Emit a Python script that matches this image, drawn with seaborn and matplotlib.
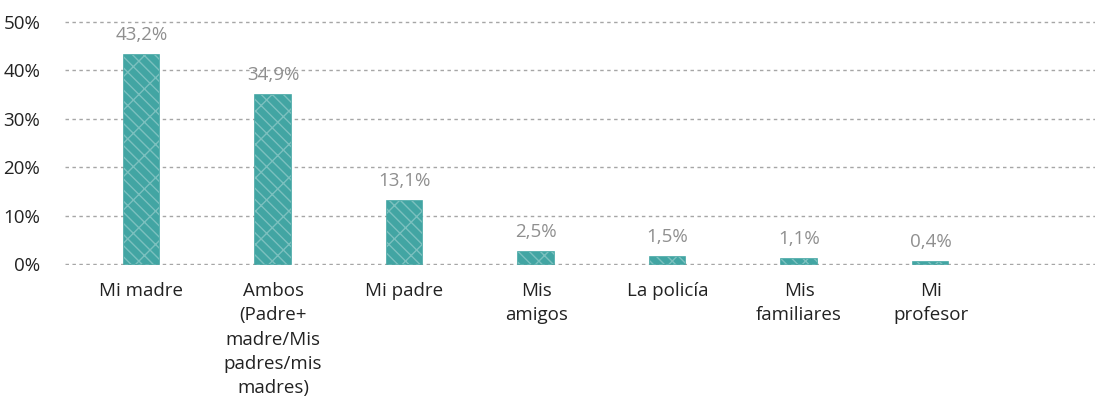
import pandas as pd
import numpy as np
import seaborn as sns
import matplotlib.pyplot as plt

categories = ['Mi madre', 'Ambos\n(Padre+\nmadre/Mis\npadres/mis\nmadres)', 'Mi padre',
              'Mis\namigos', 'La policía', 'Mis\nfamiliares', 'Mi\nprofesor']
values = [43.2, 34.9, 13.1, 2.5, 1.5, 1.1, 0.4]
value_labels = ['43,2%', '34,9%', '13,1%', '2,5%', '1,5%', '1,1%', '0,4%']
yticks = [0, 10, 20, 30, 40, 50]

teal = '#42A5A3'

sns.set_style('white')
plt.rcParams['font.family'] = ['Open Sans', 'DejaVu Sans']
plt.rcParams['hatch.linewidth'] = 1.0

df = pd.DataFrame({'cat': categories, 'val': values})

fig = plt.figure(figsize=(11.05, 4.07), dpi=100)
ax = fig.add_axes([0.059, 0.3477, 0.932, 0.6019])

sns.barplot(data=df, x='cat', y='val', color=teal, width=0.27, saturation=1,
            edgecolor=teal, linewidth=1.2, ax=ax)
# scribbled look: white hatch over the solid fill
for p in ax.patches:
    ax.add_patch(plt.Rectangle((p.get_x(), p.get_y()), p.get_width(), p.get_height(),
                               facecolor='none', edgecolor='white', hatch='x\\\\',
                               linewidth=0, alpha=0.3))

for i, (v, lab) in enumerate(zip(values, value_labels)):
    ax.annotate(lab, (i, v), xytext=(0, 8), textcoords='offset points',
                ha='center', va='bottom', fontsize=13.5, color='#8F8F8F')

ax.set_ylim(-0.3, 50.3)
ax.set_xlim(-0.58, 7.25)
ax.set_yticks(yticks)
ax.set_yticklabels([f'{t}%' for t in yticks], fontsize=13.5, color='#222222')
ax.tick_params(axis='x', labelsize=13.5, colors='#222222', length=0, pad=12)
ax.tick_params(axis='y', length=0, pad=18)
for lab in ax.get_xticklabels():
    lab.set_linespacing(1.45)
ax.set_xlabel('')
ax.set_ylabel('')
ax.yaxis.grid(True, color='#A6A6A6', linestyle=(0, (2.5, 2.5)), linewidth=1)
ax.set_axisbelow(True)
sns.despine(ax=ax, left=True, bottom=True)

fig.savefig('out.png', dpi=100)
